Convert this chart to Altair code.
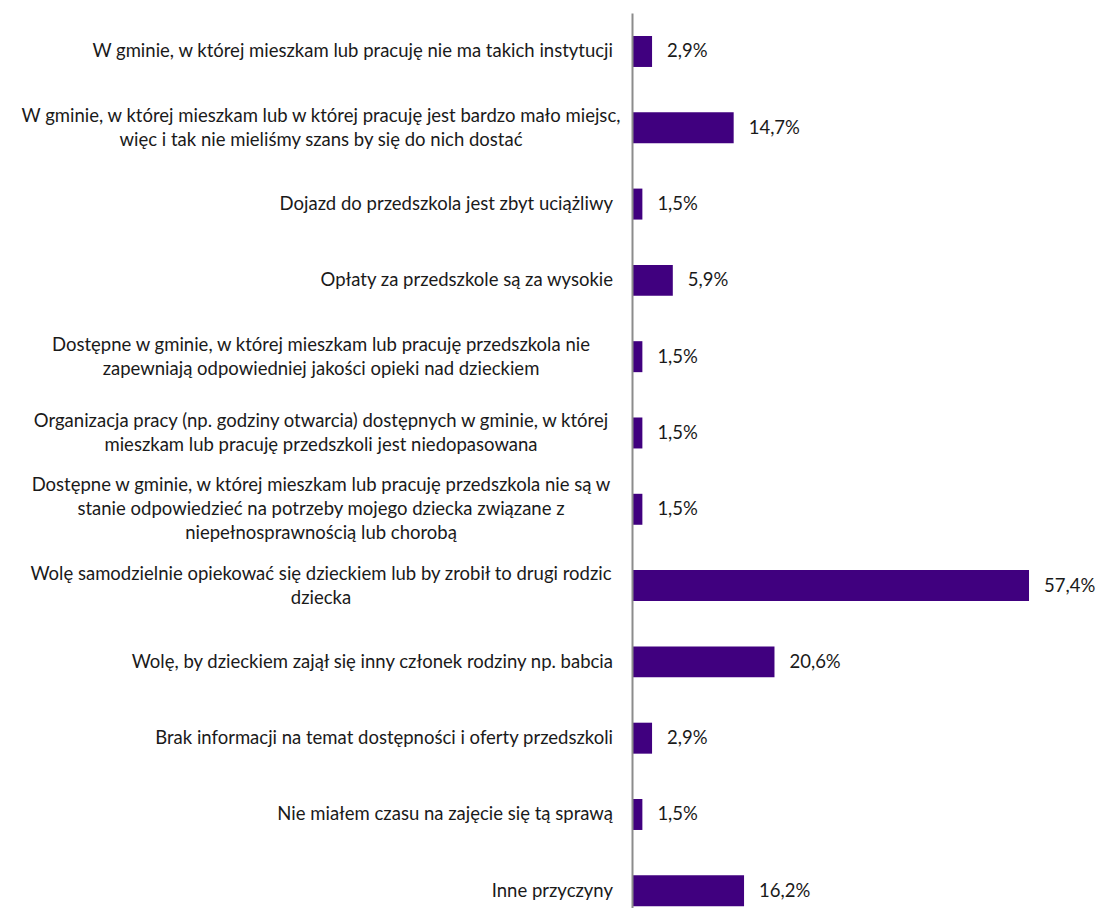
import altair as alt
import pandas as pd

categories = [
    "W gminie, w której mieszkam lub pracuję nie ma takich instytucji",
    "W gminie, w której mieszkam lub w której pracuję jest bardzo mało miejsc,\nwięc i tak nie mieliśmy szans by się do nich dostać",
    "Dojazd do przedszkola jest zbyt uciążliwy",
    "Opłaty za przedszkole są za wysokie",
    "Dostępne w gminie, w której mieszkam lub pracuję przedszkola nie\nzapewniają odpowiedniej jakości opieki nad dzieckiem",
    "Organizacja pracy (np. godziny otwarcia) dostępnych w gminie, w której\nmieszkam lub pracuję przedszkoli jest niedopasowana",
    "Dostępne w gminie, w której mieszkam lub pracuję przedszkola nie są w\nstanie odpowiedzieć na potrzeby mojego dziecka związane z\nniepełnosprawnością lub chorobą",
    "Wolę samodzielnie opiekować się dzieckiem lub by zrobił to drugi rodzic\ndziecka",
    "Wolę, by dzieckiem zajął się inny członek rodziny np. babcia",
    "Brak informacji na temat dostępności i oferty przedszkoli",
    "Nie miałem czasu na zajęcie się tą sprawą",
    "Inne przyczyny",
]
values = [2.9, 14.7, 1.5, 5.9, 1.5, 1.5, 1.5, 57.4, 20.6, 2.9, 1.5, 16.2]
value_labels = [f"{v:.1f}".replace(".", ",") + "%" for v in values]

df = pd.DataFrame({
    "cat": categories,
    "value": values,
    "label": value_labels,
    "nlines": [c.count("\n") + 1 for c in categories],
})

FONT = "Lato"
FS = 18.5
TXT = "#1a1a1a"
LH = 24

base = alt.Chart(df)

y = alt.Y(
    "cat:N",
    sort=categories,
    title=None,
    scale=alt.Scale(paddingInner=0.594, paddingOuter=0.162, align=0.93),
    axis=alt.Axis(labels=False, ticks=False, grid=False, domainColor="#8c8c8c",
                  domainWidth=2, zindex=1),
)
x = alt.X("value:Q", scale=alt.Scale(domain=[0, 60], nice=False), axis=None)

bars = base.mark_bar(color="#40007F").encode(x=x, y=y)

vals = base.mark_text(align="left", baseline="middle", dx=15, font=FONT,
                      fontSize=FS, color=TXT).encode(x=x, y=y, text="label:N")

single = base.transform_filter("datum.nlines == 1").mark_text(
    align="right", baseline="middle", font=FONT, fontSize=FS, color=TXT,
).encode(x=alt.value(-19), y=y, text="cat:N")

two = base.transform_filter("datum.nlines == 2").mark_text(
    align="center", baseline="middle", font=FONT, fontSize=FS, color=TXT,
    lineBreak="\n", lineHeight=LH, dy=-LH / 2,
).encode(x=alt.value(-311), y=y, text="cat:N")

three = base.transform_filter("datum.nlines == 3").mark_text(
    align="center", baseline="middle", font=FONT, fontSize=FS, color=TXT,
    lineBreak="\n", lineHeight=LH, dy=-LH,
).encode(x=alt.value(-311), y=y, text="cat:N")

chart = (
    alt.layer(bars, vals, single, two, three)
    .properties(
        width=415,
        height=895,
        autosize=alt.AutoSizeParams(type="none"),
        padding={"left": 624, "top": 5, "right": 50, "bottom": 0},
        background="white",
    )
    .configure_view(stroke=None)
)

chart.save("out.html", embed_options={"renderer": "svg", "actions": False})
